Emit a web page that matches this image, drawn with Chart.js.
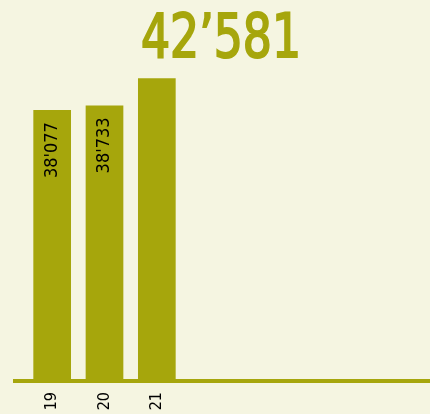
<!DOCTYPE html>
<html lang="de">
<head>
    <meta charset="UTF-8">
    <title>42'581</title>
    <script src="https://cdn.jsdelivr.net/npm/chart.js"></script>
    <style>
        html, body {
            margin: 0;
            padding: 0;
            background: #f5f5e1;
        }
        .chart-box {
            width: 430px;
            height: 414px;
        }
    </style>
</head>
<body>
    <div class="chart-box">
        <canvas id="barChart" width="430" height="414"></canvas>
    </div>
<script>
    // Daten
    const jahre = ['19', '20', '21'];
    const werte = [38077, 38733, 42581];
    const zeigeWert = [true, true, false]; // letzter Wert steht als Titel oben

    const oliv = '#a6a60c';
    const schmal = '"Liberation Sans Narrow", "DejaVu Sans Condensed", "Roboto Condensed", "Liberation Sans", sans-serif';

    function format(n, sep) {
        return String(n).replace(/\B(?=(\d{3})+(?!\d))/g, sep);
    }

    // Titel, Grundlinie über die ganze Breite + Werte in den Balken
    const extras = {
        id: 'extras',
        afterDatasetsDraw(chart) {
            const ctx = chart.ctx;
            const y0 = chart.scales.y.getPixelForValue(0);
            ctx.save();
            ctx.fillStyle = oliv;
            ctx.fillRect(chart.chartArea.left - 13, y0 - 1, chart.width, 4);

            // grosse Zahl oben
            const titel = format(werte[werte.length - 1], '’');
            ctx.font = '61px ' + schmal;
            const w = ctx.measureText(titel).width;
            ctx.save();
            ctx.translate(221, 57);
            ctx.scale(160 / w, 1);
            ctx.textAlign = 'center';
            ctx.textBaseline = 'alphabetic';
            ctx.strokeStyle = oliv;
            ctx.lineWidth = 2;
            ctx.fillText(titel, 0, 0);
            ctx.strokeText(titel, 0, 0);
            ctx.restore();

            const meta = chart.getDatasetMeta(0);
            ctx.fillStyle = '#000';
            ctx.font = '18px ' + schmal;
            ctx.textAlign = 'right';
            ctx.textBaseline = 'middle';
            meta.data.forEach((bar, i) => {
                if (!zeigeWert[i]) return;
                ctx.save();
                ctx.translate(bar.x, bar.y + 12);
                ctx.rotate(-Math.PI / 2);
                ctx.fillText(format(werte[i], "'"), 0, 0);
                ctx.restore();
            });
            ctx.restore();
        }
    };

    new Chart(document.getElementById('barChart').getContext('2d'), {
        type: 'bar',
        data: {
            labels: jahre,
            datasets: [{
                data: werte,
                backgroundColor: oliv,
                barPercentage: 0.72,
                categoryPercentage: 1
            }]
        },
        options: {
            responsive: false,
            animation: false,
            layout: {
                padding: { left: 26, right: 247, top: 61, bottom: 0 }
            },
            plugins: {
                legend: { display: false },
                tooltip: { enabled: false },
                title: { display: false }
            },
            scales: {
                x: {
                    grid: { display: false, drawTicks: false },
                    border: { display: false },
                    ticks: {
                        color: '#000',
                        font: { size: 16, family: schmal },
                        minRotation: 90,
                        maxRotation: 90,
                        padding: 12
                    },
                    afterFit(scale) {
                        scale.height = 34;
                    }
                },
                y: {
                    display: false,
                    min: 0,
                    max: 45000
                }
            }
        },
        plugins: [extras]
    });
</script>
</body>
</html>
